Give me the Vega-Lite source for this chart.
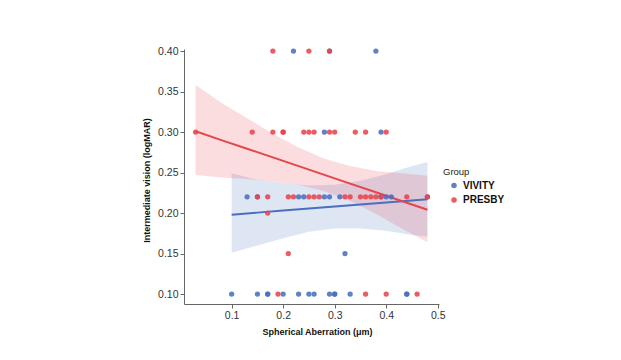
{
  "$schema": "https://vega.github.io/schema/vega-lite/v6.json",
  "width": 255,
  "height": 255,
  "autosize": "none",
  "padding": {"left": 184, "top": 49, "right": 182, "bottom": 56},
  "background": "white",
  "config": {
    "view": {"stroke": null},
    "font": "Liberation Sans",
    "axis": {
      "grid": false,
      "domainColor": "#666666",
      "domainWidth": 1,
      "tickColor": "#666666",
      "tickSize": 4,
      "labelColor": "#333333",
      "labelFontSize": 10.5,
      "labelPadding": 2,
      "titleColor": "#111111",
      "titleFontSize": 9,
      "titleFontWeight": "bold"
    }
  },
  "datasets": {
    "points": [
      {"sa": 0.22, "iv": 0.40, "group": "VIVITY"},
      {"sa": 0.29, "iv": 0.40, "group": "VIVITY"},
      {"sa": 0.38, "iv": 0.40, "group": "VIVITY"},
      {"sa": 0.28, "iv": 0.30, "group": "VIVITY"},
      {"sa": 0.39, "iv": 0.30, "group": "VIVITY"},
      {"sa": 0.13, "iv": 0.22, "group": "VIVITY"},
      {"sa": 0.15, "iv": 0.22, "group": "VIVITY"},
      {"sa": 0.23, "iv": 0.22, "group": "VIVITY"},
      {"sa": 0.24, "iv": 0.22, "group": "VIVITY"},
      {"sa": 0.28, "iv": 0.22, "group": "VIVITY"},
      {"sa": 0.29, "iv": 0.22, "group": "VIVITY"},
      {"sa": 0.31, "iv": 0.22, "group": "VIVITY"},
      {"sa": 0.39, "iv": 0.22, "group": "VIVITY"},
      {"sa": 0.40, "iv": 0.22, "group": "VIVITY"},
      {"sa": 0.41, "iv": 0.22, "group": "VIVITY"},
      {"sa": 0.48, "iv": 0.22, "group": "VIVITY"},
      {"sa": 0.32, "iv": 0.15, "group": "VIVITY"},
      {"sa": 0.10, "iv": 0.10, "group": "VIVITY"},
      {"sa": 0.15, "iv": 0.10, "group": "VIVITY"},
      {"sa": 0.17, "iv": 0.10, "group": "VIVITY"},
      {"sa": 0.17, "iv": 0.10, "group": "VIVITY"},
      {"sa": 0.20, "iv": 0.10, "group": "VIVITY"},
      {"sa": 0.23, "iv": 0.10, "group": "VIVITY"},
      {"sa": 0.25, "iv": 0.10, "group": "VIVITY"},
      {"sa": 0.26, "iv": 0.10, "group": "VIVITY"},
      {"sa": 0.29, "iv": 0.10, "group": "VIVITY"},
      {"sa": 0.30, "iv": 0.10, "group": "VIVITY"},
      {"sa": 0.30, "iv": 0.10, "group": "VIVITY"},
      {"sa": 0.33, "iv": 0.10, "group": "VIVITY"},
      {"sa": 0.44, "iv": 0.10, "group": "VIVITY"},
      {"sa": 0.44, "iv": 0.10, "group": "VIVITY"},
      {"sa": 0.18, "iv": 0.40, "group": "PRESBY"},
      {"sa": 0.25, "iv": 0.40, "group": "PRESBY"},
      {"sa": 0.29, "iv": 0.40, "group": "PRESBY"},
      {"sa": 0.03, "iv": 0.30, "group": "PRESBY"},
      {"sa": 0.14, "iv": 0.30, "group": "PRESBY"},
      {"sa": 0.18, "iv": 0.30, "group": "PRESBY"},
      {"sa": 0.20, "iv": 0.30, "group": "PRESBY"},
      {"sa": 0.20, "iv": 0.30, "group": "PRESBY"},
      {"sa": 0.24, "iv": 0.30, "group": "PRESBY"},
      {"sa": 0.25, "iv": 0.30, "group": "PRESBY"},
      {"sa": 0.26, "iv": 0.30, "group": "PRESBY"},
      {"sa": 0.29, "iv": 0.30, "group": "PRESBY"},
      {"sa": 0.30, "iv": 0.30, "group": "PRESBY"},
      {"sa": 0.34, "iv": 0.30, "group": "PRESBY"},
      {"sa": 0.36, "iv": 0.30, "group": "PRESBY"},
      {"sa": 0.40, "iv": 0.30, "group": "PRESBY"},
      {"sa": 0.15, "iv": 0.22, "group": "PRESBY"},
      {"sa": 0.17, "iv": 0.22, "group": "PRESBY"},
      {"sa": 0.21, "iv": 0.22, "group": "PRESBY"},
      {"sa": 0.22, "iv": 0.22, "group": "PRESBY"},
      {"sa": 0.25, "iv": 0.22, "group": "PRESBY"},
      {"sa": 0.26, "iv": 0.22, "group": "PRESBY"},
      {"sa": 0.27, "iv": 0.22, "group": "PRESBY"},
      {"sa": 0.32, "iv": 0.22, "group": "PRESBY"},
      {"sa": 0.33, "iv": 0.22, "group": "PRESBY"},
      {"sa": 0.35, "iv": 0.22, "group": "PRESBY"},
      {"sa": 0.36, "iv": 0.22, "group": "PRESBY"},
      {"sa": 0.37, "iv": 0.22, "group": "PRESBY"},
      {"sa": 0.38, "iv": 0.22, "group": "PRESBY"},
      {"sa": 0.39, "iv": 0.22, "group": "PRESBY"},
      {"sa": 0.44, "iv": 0.22, "group": "PRESBY"},
      {"sa": 0.48, "iv": 0.22, "group": "PRESBY"},
      {"sa": 0.17, "iv": 0.20, "group": "PRESBY"},
      {"sa": 0.21, "iv": 0.15, "group": "PRESBY"},
      {"sa": 0.19, "iv": 0.10, "group": "PRESBY"},
      {"sa": 0.36, "iv": 0.10, "group": "PRESBY"},
      {"sa": 0.40, "iv": 0.10, "group": "PRESBY"},
      {"sa": 0.46, "iv": 0.10, "group": "PRESBY"}
    ],
    "fits": [
      {"sa": 0.10, "fit": 0.198, "lo": 0.151, "hi": 0.249, "group": "VIVITY"},
      {"sa": 0.15, "fit": 0.2005, "lo": 0.160, "hi": 0.241, "group": "VIVITY"},
      {"sa": 0.20, "fit": 0.203, "lo": 0.169, "hi": 0.237, "group": "VIVITY"},
      {"sa": 0.25, "fit": 0.2055, "lo": 0.177, "hi": 0.234, "group": "VIVITY"},
      {"sa": 0.30, "fit": 0.208, "lo": 0.181, "hi": 0.235, "group": "VIVITY"},
      {"sa": 0.35, "fit": 0.2105, "lo": 0.181, "hi": 0.240, "group": "VIVITY"},
      {"sa": 0.40, "fit": 0.213, "lo": 0.178, "hi": 0.248, "group": "VIVITY"},
      {"sa": 0.45, "fit": 0.2155, "lo": 0.173, "hi": 0.258, "group": "VIVITY"},
      {"sa": 0.48, "fit": 0.217, "lo": 0.171, "hi": 0.263, "group": "VIVITY"},
      {"sa": 0.03, "fit": 0.301, "lo": 0.247, "hi": 0.358, "group": "PRESBY"},
      {"sa": 0.08, "fit": 0.290, "lo": 0.244, "hi": 0.336, "group": "PRESBY"},
      {"sa": 0.13, "fit": 0.2794, "lo": 0.242, "hi": 0.317, "group": "PRESBY"},
      {"sa": 0.18, "fit": 0.2687, "lo": 0.239, "hi": 0.298, "group": "PRESBY"},
      {"sa": 0.23, "fit": 0.2579, "lo": 0.235, "hi": 0.281, "group": "PRESBY"},
      {"sa": 0.28, "fit": 0.2471, "lo": 0.227, "hi": 0.267, "group": "PRESBY"},
      {"sa": 0.33, "fit": 0.2363, "lo": 0.215, "hi": 0.258, "group": "PRESBY"},
      {"sa": 0.38, "fit": 0.2256, "lo": 0.199, "hi": 0.252, "group": "PRESBY"},
      {"sa": 0.43, "fit": 0.2148, "lo": 0.181, "hi": 0.249, "group": "PRESBY"},
      {"sa": 0.48, "fit": 0.204, "lo": 0.164, "hi": 0.246, "group": "PRESBY"}
    ]
  },
  "encoding": {
    "x": {
      "field": "sa",
      "type": "quantitative",
      "scale": {"domain": [0.0075, 0.5025], "nice": false, "zero": false},
      "axis": {
        "title": "Spherical Aberration (μm)",
        "values": [0.1, 0.2, 0.3, 0.4, 0.5],
        "format": ".1f",
        "titleX": 133,
        "titleY": 27,
        "titleBaseline": "middle"
      }
    },
    "color": {
      "field": "group",
      "type": "nominal",
      "scale": {"domain": ["VIVITY", "PRESBY"], "range": ["#4a6fbe", "#e8444c"]},
      "legend": {
        "title": "Group",
        "orient": "none",
        "legendX": 259,
        "legendY": 118,
        "titleFontSize": 9.5,
        "titleFontWeight": "normal",
        "titleColor": "#222222",
        "titlePadding": 4,
        "labelFontSize": 10,
        "labelFontWeight": "bold",
        "labelColor": "#111111",
        "symbolType": "circle",
        "symbolSize": 30,
        "symbolOffset": 6,
        "symbolOpacity": 0.88,
        "symbolStrokeWidth": 0,
        "rowPadding": 4.5,
        "padding": 0
      }
    }
  },
  "layer": [
    {
      "data": {"name": "fits"},
      "mark": {"type": "area", "opacity": 0.18},
      "encoding": {
        "y": {
          "field": "lo",
          "type": "quantitative",
          "scale": {"domain": [0.0877, 0.4025], "nice": false, "zero": false},
          "axis": {
            "title": "Intermediate vision (logMAR)",
            "values": [0.1, 0.15, 0.2, 0.25, 0.3, 0.35, 0.4],
            "format": ".2f",
            "titleX": -38,
            "titleY": 131,
            "titleAngle": -90,
            "titleBaseline": "middle",
            "titleAlign": "center"
          }
        },
        "y2": {"field": "hi"}
      }
    },
    {
      "data": {"name": "fits"},
      "mark": {"type": "line", "strokeWidth": 2},
      "encoding": {
        "y": {"field": "fit", "type": "quantitative"}
      }
    },
    {
      "data": {"name": "points"},
      "mark": {"type": "point", "filled": true, "size": 28, "opacity": 0.88},
      "encoding": {
        "y": {"field": "iv", "type": "quantitative"}
      }
    }
  ]
}
